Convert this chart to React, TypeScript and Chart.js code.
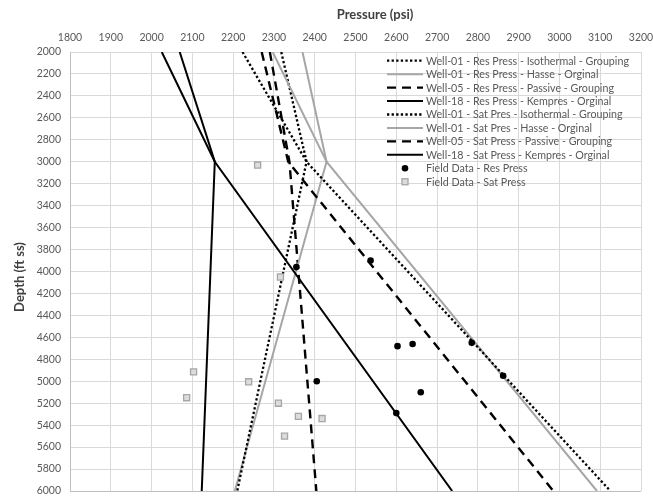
import React, { useEffect, useRef } from 'react';
import { Chart, registerables } from 'chart.js';
Chart.register(...registerables);

// Depth nodes (ft ss) shared by all model lines: top, contact, bottom
const lineDepths = [2000, 3000, 6000];

// Model line pressures (psi) at the depth nodes
const w01ResIso = [2223, 2380, 3125];
const w01ResHasse = [2297, 2429, 3092];
const w05ResPassive = [2270, 2335, 2985];
const w18ResKempres = [2025, 2155, 2737];
const w01SatIso = [2318, 2380, 2210];
const w01SatHasse = [2370, 2429, 2204];
const w05SatPassive = [2290, 2338, 2404];
const w18SatKempres = [2069, 2155, 2123];

// Field data
const fieldResPressure = [2355, 2537, 2603, 2640, 2785, 2862, 2405, 2660, 2600];
const fieldResDepth = [3960, 3900, 4680, 4660, 4650, 4950, 5000, 5100, 5290];
const fieldSatPressure = [2260, 2316, 2103, 2238, 2086, 2311, 2360, 2418, 2326];
const fieldSatDepth = [3030, 4050, 4915, 5005, 5150, 5200, 5320, 5340, 5500];

const seriesLabels = [
  'Well-01 - Res Press - Isothermal - Grouping',
  'Well-01 - Res Press - Hasse - Orginal',
  'Well-05 - Res Press - Passive - Grouping',
  'Well-18 - Res Press - Kempres - Orginal',
  'Well-01 - Sat Pres - Isothermal - Grouping',
  'Well-01 - Sat Pres - Hasse - Orginal',
  'Well-05 - Sat Press - Passive - Grouping',
  'Well-18 - Sat Press - Kempres - Orginal',
  'Field Data - Res Press',
  'Field Data - Sat Press',
];

const xMin = 1800, xMax = 3200, xStep = 100;
const yMin = 2000, yMax = 6000, yStep = 200;

const FONT = 'Lato, "Open Sans", sans-serif';

const toPts = (px: number[], py: number[]) => px.map((p, i) => ({ x: p, y: py[i] }));

const dotted = { borderColor: '#000000', borderWidth: 2.3, borderDash: [2.3, 2.3] };
const greySolid = { borderColor: '#a6a6a6', borderWidth: 2, borderDash: [] as number[] };
const dashed = { borderColor: '#000000', borderWidth: 2.4, borderDash: [9, 6] };
const blackSolid = { borderColor: '#000000', borderWidth: 2, borderDash: [] as number[] };

const lineStyles = [dotted, greySolid, dashed, blackSolid, dotted, greySolid, dashed, blackSolid];
const lineData = [w01ResIso, w01ResHasse, w05ResPassive, w18ResKempres, w01SatIso, w01SatHasse, w05SatPassive, w18SatKempres];

const overlayPlugin = {
  id: 'overlay',
  afterDraw(chart: any) {
    const ctx = chart.ctx as CanvasRenderingContext2D;
    ctx.save();
    // axis titles
    ctx.fillStyle = '#404040';
    ctx.font = `bold 13px ${FONT}`;
    ctx.textAlign = 'center';
    ctx.textBaseline = 'middle';
    ctx.fillText('Pressure (psi)', 375, 15);
    ctx.save();
    ctx.translate(20, 277);
    ctx.rotate(-Math.PI / 2);
    ctx.fillText('Depth (ft ss)', 0, 0);
    ctx.restore();

    // legend
    const x0 = 387, x1 = 423, tx = 426, y0 = 60.7, dy = 13.45;
    ctx.font = `10.7px ${FONT}`;
    ctx.textAlign = 'left';
    ctx.fillStyle = '#595959';
    seriesLabels.forEach((lab, i) => {
      const y = y0 + i * dy;
      if (i < 8) {
        const st = lineStyles[i];
        ctx.save();
        ctx.strokeStyle = st.borderColor;
        ctx.lineWidth = st.borderWidth;
        ctx.setLineDash(st.borderDash);
        ctx.beginPath();
        ctx.moveTo(x0, y);
        ctx.lineTo(x1, y);
        ctx.stroke();
        ctx.restore();
      } else if (i === 8) {
        ctx.save();
        ctx.fillStyle = '#000';
        ctx.beginPath();
        ctx.arc(405, y, 3.3, 0, Math.PI * 2);
        ctx.fill();
        ctx.restore();
      } else {
        ctx.save();
        ctx.fillStyle = '#dcdcdc';
        ctx.strokeStyle = '#a6a6a6';
        ctx.lineWidth = 1.3;
        ctx.fillRect(402, y - 3, 6, 6);
        ctx.strokeRect(402, y - 3, 6, 6);
        ctx.restore();
      }
      ctx.fillStyle = '#595959';
      ctx.fillText(lab, tx, y + 0.5);
    });
    ctx.restore();
  },
};

export default function App() {
  const ref = useRef<HTMLCanvasElement | null>(null);
  useEffect(() => {
    if (!ref.current) return;
    const datasets: any[] = lineData.map((d, i) => ({
      label: seriesLabels[i],
      data: toPts(d, lineDepths),
      showLine: true,
      pointRadius: 0,
      fill: false,
      order: 1,
      ...lineStyles[i],
    }));
    datasets.push({
      label: seriesLabels[8],
      data: toPts(fieldResPressure, fieldResDepth),
      showLine: false,
      pointStyle: 'circle',
      pointRadius: 3.3,
      pointBackgroundColor: '#000000',
      pointBorderColor: '#000000',
      pointBorderWidth: 0,
      order: 0,
    });
    datasets.push({
      label: seriesLabels[9],
      data: toPts(fieldSatPressure, fieldSatDepth),
      showLine: false,
      pointStyle: 'rect',
      pointRadius: 4.3,
      pointBackgroundColor: '#dcdcdc',
      pointBorderColor: '#a6a6a6',
      pointBorderWidth: 1.3,
      order: 0,
    });

    const chart = new Chart(ref.current, {
      type: 'scatter',
      data: { datasets },
      plugins: [overlayPlugin],
      options: {
        animation: false,
        responsive: false,
        maintainAspectRatio: false,
        layout: { padding: { left: 0, top: 0, right: 12, bottom: 7 } },
        plugins: { legend: { display: false }, tooltip: { enabled: false } },
        scales: {
          x: {
            type: 'linear',
            position: 'top',
            min: xMin,
            max: xMax,
            ticks: {
              stepSize: xStep,
              padding: 8,
              color: '#595959',
              font: { family: FONT, size: 10.5 },
              callback: (v: any) => String(v),
            },
            grid: { color: '#d9d9d9', drawTicks: false, lineWidth: 1 },
            border: { display: false },
            afterFit(scale: any) {
              scale.height = 52;
              scale.paddingLeft = 0;
              scale.paddingRight = 0;
            },
          },
          y: {
            type: 'linear',
            reverse: true,
            min: yMin,
            max: yMax,
            ticks: {
              stepSize: yStep,
              padding: 9,
              color: '#595959',
              font: { family: FONT, size: 10.5 },
              callback: (v: any) => String(v),
            },
            grid: {
              color: (c: any) => (c.tick && c.tick.value === yMax ? '#bfbfbf' : '#d9d9d9'),
              drawTicks: false,
              lineWidth: 1,
            },
            border: { display: true, color: '#bfbfbf', width: 1 },
            afterFit(scale: any) {
              scale.width = 70;
              scale.paddingTop = 0;
              scale.paddingBottom = 0;
            },
          },
        },
      } as any,
    });
    return () => chart.destroy();
  }, []);
  return (
    <div style={{ position: 'absolute', left: 0, top: 0, width: 653, height: 498, background: '#fff' }}>
      <canvas ref={ref} width={653} height={498} style={{ display: 'block' }} />
    </div>
  );
}
